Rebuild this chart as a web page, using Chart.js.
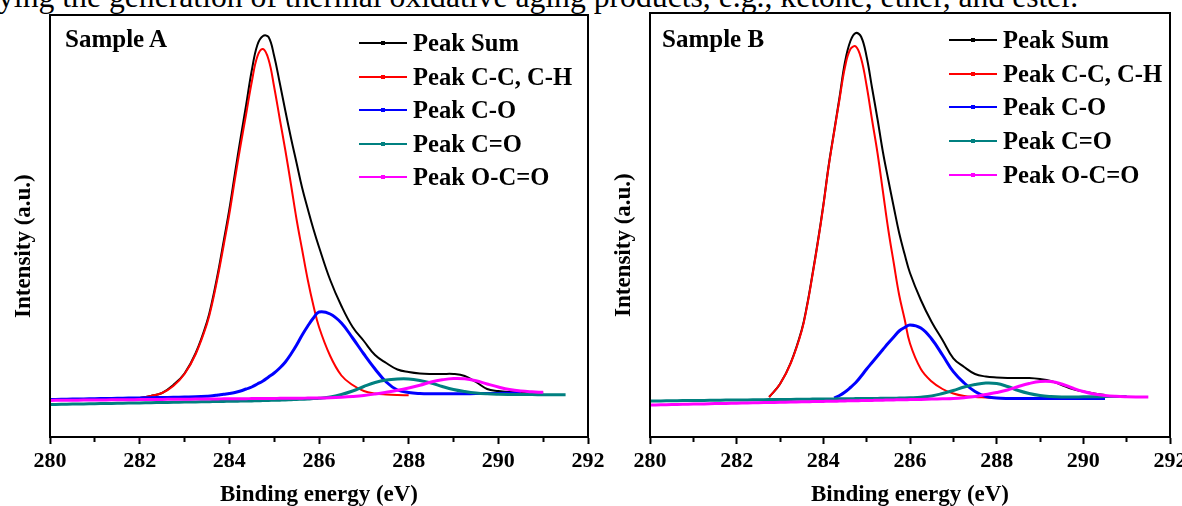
<!DOCTYPE html>
<html>
<head>
<meta charset="utf-8">
<script src="https://cdn.jsdelivr.net/npm/chart.js@4.4.0/dist/chart.umd.min.js"></script>
<style>
  html, body { margin: 0; padding: 0; background: #fff; }
  body {
    width: 1182px; height: 506px; position: relative; overflow: hidden;
    font-family: 'Liberation Serif', 'Times New Roman', serif; color: #000;
  }
  .caption {
    position: absolute; left: -2px; top: -19px;
    font-size: 31.7px; line-height: 31.5px; white-space: nowrap;
  }
  canvas { position: absolute; top: 0; }
  .sample, .legend-row {
    position: absolute; font-weight: bold; font-size: 24.6px;
    line-height: 24px; height: 24px; white-space: nowrap;
  }
  .sample { font-size: 25px; }
  .legend-row .ln { position: absolute; left: 0; top: 11px; width: 48px; height: 2px; }
  .legend-row .dot { position: absolute; left: 22px; top: 10px; width: 4px; height: 4px; }
  .legend-row .tx { position: absolute; left: 54px; top: 0; }
</style>
</head>
<body>
<div class="caption">ying the generation of thermal oxidative aging products, e.g., ketone, ether, and ester.</div>
<canvas id="chartA" width="620" height="506" style="left:0"></canvas>
<canvas id="chartB" width="582" height="506" style="left:600px"></canvas>
<div class="sample" style="left:65px; top:27px">Sample A</div>
<div class="sample" style="left:662px; top:27px">Sample B</div>
<div id="legendA"></div>
<div id="legendB"></div>
<script>
// binding energy grid (eV), finer around the main peaks
const energy = [280, 280.25, 280.5, 280.75, 281, 281.25, 281.5, 281.75, 282, 282.25, 282.5, 282.75, 283, 283.25, 283.5,
  283.625, 283.75, 283.875, 284, 284.125, 284.25, 284.375, 284.5, 284.625, 284.75,
  284.875, 285, 285.125, 285.25, 285.375, 285.5, 285.625, 285.75, 285.875, 286,
  286.25, 286.5, 286.75, 287, 287.25, 287.5, 287.75, 288, 288.25, 288.5, 288.75,
  289, 289.25, 289.5, 289.75, 290, 290.25, 290.5, 290.75, 291, 291.25, 291.5];

const seriesLabels = ['Peak Sum', 'Peak C-C, C-H', 'Peak C-O', 'Peak C=O', 'Peak O-C=O'];
const seriesColors = ['#000000', '#ff0000', '#0000ff', '#008080', '#ff00ff'];
const seriesWidths = [2, 2, 3, 3, 3];
const xTicks = [280, 282, 284, 286, 288, 290, 292];

// Sample A intensities (a.u.)
const sumA = [37.5, 37.6, 37.7, 37.8, 37.9, 38, 38.2, 38.5, 39, 41, 44, 52, 63.5, 84, 115,
  137.5, 165, 196, 227.5, 263.5, 298.5, 332, 366.5, 392, 401,
  400, 381, 354, 326, 299, 274, 249, 228, 208, 190,
  157, 131, 110, 96, 82, 74, 67.5, 65, 63.5, 63, 63,
  63, 61, 55, 48, 46, 45, 44.5, 44.5, 44.5, null, null];
const ccA = [37.5, 37.6, 37.7, 37.8, 37.9, 38, 38.2, 38.5, 39, 41, 44, 51, 63, 83, 113,
  135, 162, 192, 223, 258, 291.5, 323, 355, 380.5, 388,
  377.5, 350, 318, 286.5, 252.5, 217.5, 187, 157, 131.5, 110,
  81, 61.5, 52, 46, 43.5, 42.5, 42, 41.8, null, null, null,
  null, null, null, null, null, null, null, null, null, null, null];
const coA = [37.5, 37.7, 37.9, 38.1, 38.3, 38.5, 38.7, 38.9, 39.1, 39.3, 39.5, 39.7, 40, 40.3, 40.8,
  41.2, 42, 42.8, 43.5, 44.5, 46, 48, 50, 53, 56,
  60, 64, 69, 75, 83, 92, 102, 111, 119, 125,
  123, 114, 99, 83, 68, 55, 47, 44.5, 43.5, 43.2, 43.2,
  43.2, 43.3, 43.4, 43.5, 43.6, 43.7, 43.8, null, null, null, null];
const c_oA = [32.5, 32.7, 32.9, 33.1, 33.3, 33.5, 33.7, 33.9, 34.1, 34.3, 34.5, 34.7, 34.9, 35.1, 35.3,
  35.4, 35.5, 35.6, 35.7, 35.8, 35.9, 36, 36.1, 36.25, 36.4,
  36.55, 36.7, 36.85, 37, 37.25, 37.5, 37.75, 38, 38.4, 38.8,
  40, 42.5, 46, 50.5, 54.5, 57, 58, 58, 56.5, 54, 50.5,
  47.5, 45.5, 44, 43.2, 42.8, 42.6, 42.5, 42.4, 42.3, 42.2, 42.2];
const ocoA = [36.6, 36.7, 36.8, 36.9, 37, 37.1, 37.2, 37.3, 37.4, 37.5, 37.6, 37.7, 37.8, 37.9, 38,
  38.05, 38.1, 38.15, 38.2, 38.25, 38.3, 38.35, 38.4, 38.45, 38.5,
  38.55, 38.6, 38.65, 38.7, 38.75, 38.8, 38.85, 38.9, 38.95, 39,
  39.3, 39.8, 40.5, 41.5, 43, 44.8, 46.7, 49, 51.7, 55, 57.2,
  58.5, 58.2, 56.2, 53, 50, 47.5, 46, 45.2, 44.7, null, null];

// Sample B intensities (a.u.)
const sumB = [null, null, null, null, null, null, null, null, null, null, null, 40, 53, 74.5, 107,
  132, 163, 196, 232, 272, 306, 340, 375, 396, 404,
  400, 380, 349, 318, 285, 257, 230, 204, 183, 164,
  137, 115, 97, 78.7, 70, 63, 60.5, 59.5, 59, 59, 59,
  58, 56, 52, 48, 45.5, 43.5, 42, null, null, null, null];
const ccB = [null, null, null, null, null, null, null, null, null, null, null, 40, 53, 74, 106,
  131, 162, 195, 231, 271, 305, 338, 370, 388, 390.5,
  378, 351, 317, 284, 245.5, 207, 174, 142, 118, 93.5,
  68, 55.5, 48, 43.5, 41, 40, 39.5, 39, 38.8, null, null,
  null, null, null, null, null, null, null, null, null, null, null];
const coB = [null, null, null, null, null, null, null, null, null, null, null, null, null, null, null,
  null, null, null, null, null, 39, 41.5, 45, 49.5, 54.5,
  61, 68, 74.5, 81, 87.5, 94, 100, 106, 109.5, 112,
  109, 98, 82, 65.3, 54, 45.5, 40.5, 39, 38.5, 38.5, 38.5,
  38.5, 38.5, 38.5, 38.5, 38.5, 38.5, 38.5, null, null, null, null];
const c_oB = [36, 36.1, 36.3, 36.4, 36.5, 36.6, 36.8, 36.9, 37, 37.1, 37.3, 37.4, 37.5, 37.6, 37.75,
  37.8, 37.9, 37.95, 38, 38.05, 38.1, 38.2, 38.3, 38.35, 38.4,
  38.45, 38.5, 38.55, 38.6, 38.7, 38.8, 38.85, 38.9, 39, 39.2,
  39.8, 41, 43.5, 46.5, 50, 52.5, 54, 53.5, 50.5, 46.5, 43.5,
  41.5, 40.5, 40, 40, 40.2, 40.3, 40.4, 40.5, 40.5, null, null];
const ocoB = [32, 32.2, 32.5, 32.7, 32.9, 33.1, 33.4, 33.6, 33.8, 34, 34.3, 34.5, 34.7, 34.9, 35.2,
  35.3, 35.4, 35.5, 35.6, 35.7, 35.8, 35.95, 36.1, 36.2, 36.3,
  36.4, 36.5, 36.6, 36.7, 36.85, 37, 37.1, 37.2, 37.3, 37.4,
  37.6, 37.9, 38.2, 38.5, 39.3, 40.5, 42.5, 44.5, 47, 50.5, 53.5,
  55.5, 55.5, 53, 49, 45.5, 43, 41.5, 40.7, 40.3, 40.1, 40];

Chart.defaults.font.family = "'Liberation Serif', 'Times New Roman', serif";
Chart.defaults.font.weight = 'bold';
Chart.defaults.color = '#000';

// box around the plot area
const framePlugin = {
  id: 'frame',
  afterDraw(chart) {
    const { ctx, chartArea: a } = chart;
    ctx.save();
    ctx.strokeStyle = '#000';
    ctx.lineWidth = 2;
    ctx.strokeRect(a.left, a.top, a.right - a.left, a.bottom - a.top);
    ctx.restore();
  }
};

function makeChart(id, series, yMax, padTop, padRight) {
  const datasets = series.map((vals, i) => ({
    label: seriesLabels[i],
    data: energy.map((x, j) => ({ x: x, y: vals[j] })),
    borderColor: seriesColors[i],
    backgroundColor: seriesColors[i],
    borderWidth: seriesWidths[i],
    pointRadius: 0,
    tension: 0.4,
    order: 5 - i
  }));

  return new Chart(document.getElementById(id), {
    type: 'line',
    data: { datasets: datasets },
    options: {
      responsive: false,
      animation: false,
      events: [],
      layout: { padding: { top: padTop, right: padRight, left: 0, bottom: 0 } },
      plugins: { legend: { display: false }, tooltip: { enabled: false } },
      scales: {
        x: {
          type: 'linear',
          min: 280,
          max: 292,
          afterFit: (s) => { s.height = 69; s.paddingLeft = 0; s.paddingRight = 0; },
          border: { display: true, color: '#000', width: 2 },
          grid: {
            drawOnChartArea: false,
            color: '#000',
            tickColor: '#000',
            tickWidth: 2,
            tickLength: 7,
            tickBorderDash: (ctx) => (ctx.tick && ctx.tick.value % 2 !== 0 ? [4, 40] : [])
          },
          ticks: {
            stepSize: 1,
            padding: 4,
            font: { size: 22, weight: 'bold' },
            maxRotation: 0,
            autoSkip: false,
            callback: (v) => (xTicks.includes(v) ? v : '')
          },
          title: {
            display: true,
            text: 'Binding energy (eV)',
            font: { size: 23, weight: 'bold' },
            padding: { top: 0, bottom: -3 }
          }
        },
        y: {
          min: 0,
          max: yMax,
          afterFit: (s) => { s.width = 50; },
          border: { display: true, color: '#000', width: 2 },
          grid: { drawOnChartArea: false, drawTicks: false },
          ticks: { display: false },
          title: {
            display: true,
            // trailing spaces push the centred title a bit lower, as in the figure
            text: 'Intensity (a.u.)\u00a0\u00a0\u00a0\u00a0\u00a0\u00a0\u00a0',
            font: { size: 23, weight: 'bold' },
            padding: { top: 10, bottom: 0 }
          }
        }
      }
    },
    plugins: [framePlugin]
  });
}

function makeLegend(id, left, top, step) {
  const box = document.getElementById(id);
  seriesLabels.forEach((label, i) => {
    const row = document.createElement('div');
    row.className = 'legend-row';
    row.style.left = left + 'px';
    row.style.top = (top + i * step) + 'px';
    row.innerHTML = '<span class="ln" style="background:' + seriesColors[i] + '"></span>' +
      '<span class="dot" style="background:' + seriesColors[i] + '"></span>' +
      '<span class="tx">' + label + '</span>';
    box.appendChild(row);
  });
}

makeChart('chartA', [sumA, ccA, coA, c_oA, ocoA], 422, 15, 32);
makeChart('chartB', [sumB, ccB, coB, c_oB, ocoB], 424, 13, 12);
makeLegend('legendA', 359, 31, 33.5);
makeLegend('legendB', 949, 28, 33.7);
</script>
</body>
</html>
